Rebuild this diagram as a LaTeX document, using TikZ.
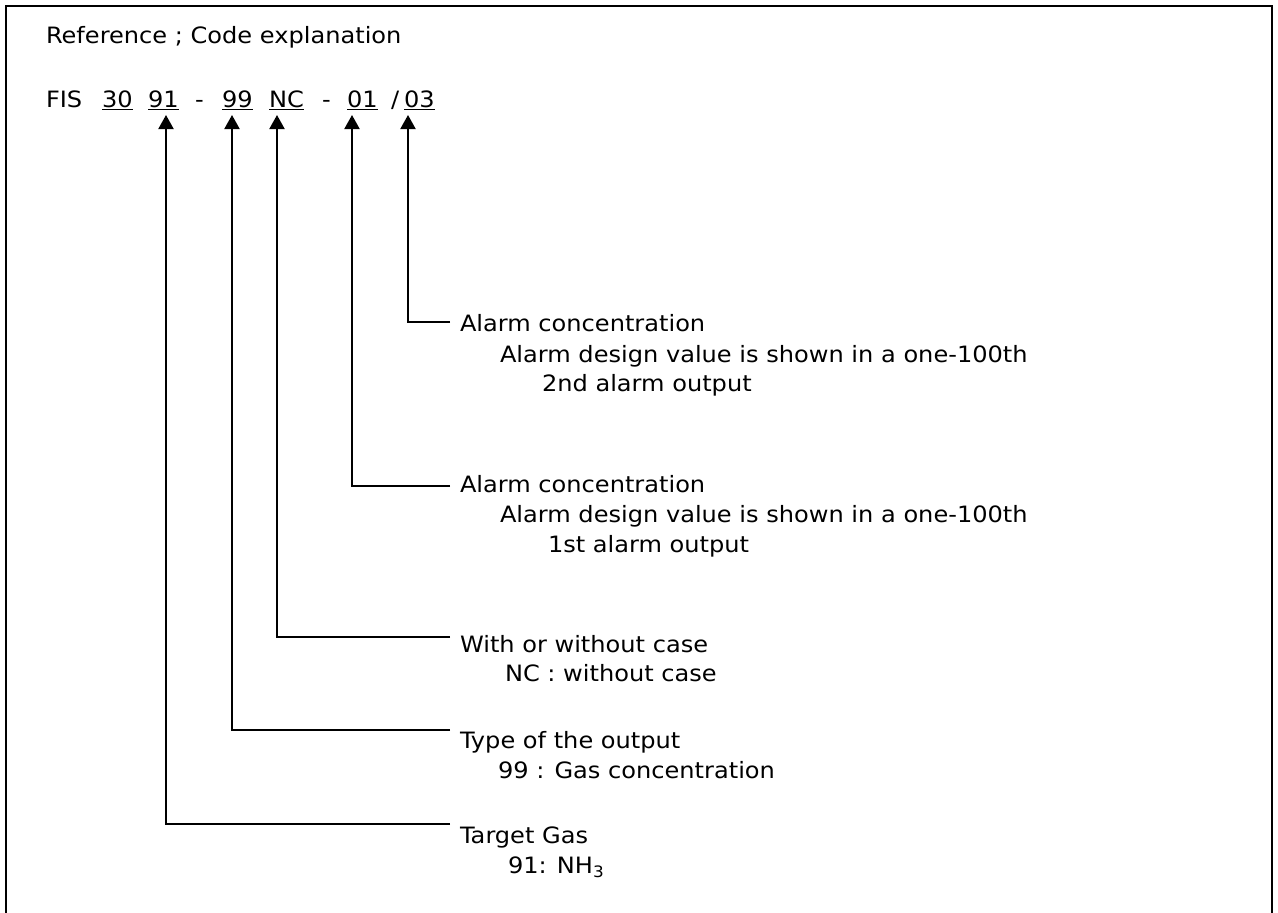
\documentclass[tikz,border=0pt]{standalone}
\usepackage{fontspec}
\setmainfont{DejaVu Sans}[FakeStretch=1.07]
\usetikzlibrary{arrows.meta}
\begin{document}
\begin{tikzpicture}[x=1bp,y=-1bp,
  txt/.style={font=\fontsize{22.5bp}{30bp}\selectfont, inner sep=0pt, outer sep=0pt, anchor=base west},
  arr/.style={line width=2bp, -{Triangle[length=14bp,width=15bp]}},
  frame/.style={line width=2.2bp},
  ul/.style={line width=1.5bp}]
\useasboundingbox (0,0) rectangle (1278,913);
\draw[frame] (6,913) -- (6,6) -- (1272,6) -- (1272,913);

\node[txt] (title) at (46,43) {Reference ; Code explanation};

% code line
\node[txt] (fis) at (46,107) {FIS};
\node[txt] (c30) at (102,107) {30};
\node[txt] (c91) at (148,107) {91};
\node[txt] (d1)  at (195,107) {-};
\node[txt] (c99) at (222,107) {99};
\node[txt] (cnc) at (269,107) {NC};
\node[txt] (d2)  at (322,107) {-};
\node[txt] (c01) at (347,107) {01};
\node[txt] (sl)  at (391,107) {/};
\node[txt] (c03) at (404,107) {03};
\foreach \n in {c30,c91,c99,cnc,c01,c03}
  \draw[ul] ([yshift=-2.5bp]\n.base west) -- ([yshift=-2.5bp]\n.base east);

% arrow tips under the code
\coordinate (t91) at (166,115);
\coordinate (t99) at (232,115);
\coordinate (tnc) at (277,115);
\coordinate (t01) at (352,115);
\coordinate (t03) at (408,115);

% elbow ends
\coordinate (e03) at (450,321.7);
\coordinate (e01) at (450,485.5);
\coordinate (enc) at (450,636.7);
\coordinate (e99) at (450,730);
\coordinate (e91) at (450,824);

% labels
\node[txt] (l03a) at (460,331.5) {Alarm concentration};
\node[txt] (l03b) at (500,362) {Alarm design value is shown in a one-100th};
\node[txt] (l03c) at (542,391) {2nd alarm output};

\node[txt] (l01a) at (460,492) {Alarm concentration};
\node[txt] (l01b) at (500,522) {Alarm design value is shown in a one-100th};
\node[txt] (l01c) at (548,552) {1st alarm output};

\node[txt] (lnca) at (460,652) {With or without case};
\node[txt] (lncb) at (505,681) {NC : without case};

\node[txt] (l99a) at (460,748) {Type of the output};
\node[txt] (l99b) at (498,778) {99 : Gas concentration};

\node[txt] (l91a) at (460,843) {Target Gas};
\node[txt] (l91b) at (508,873) {91: NH\textsubscript{3}};

% connectors
\draw[arr] (e03) -| (t03);
\draw[arr] (e01) -| (t01);
\draw[arr] (enc) -| (tnc);
\draw[arr] (e99) -| (t99);
\draw[arr] (e91) -| (t91);
\end{tikzpicture}
\end{document}
